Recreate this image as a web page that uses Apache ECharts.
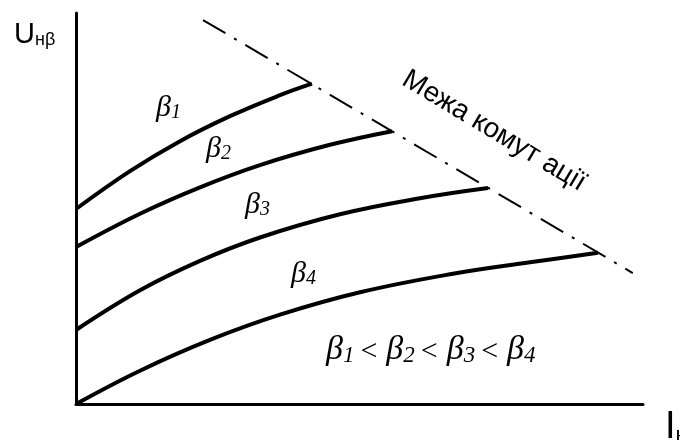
<!DOCTYPE html>
<html>
<head>
<meta charset="utf-8">
<script src="https://cdn.jsdelivr.net/npm/echarts@6/dist/echarts.min.js"></script>
<style>
  html, body { margin: 0; padding: 0; background: #fff; }
  #main_chart { width: 680px; height: 440px; }
</style>
</head>
<body>
<div id="main_chart"></div>
<script>
// curve points, [I, U] in relative units (0..100)
var beta1 = [[0, 49.87], [9.52, 59.54], [18.34, 67.21], [27.16, 73.61], [35.98, 78.98], [41.62, 81.92]];
var beta2 = [[0, 40.15], [11.29, 48.67], [21.87, 55.42], [32.45, 61.10], [44.80, 66.29], [55.73, 69.77]];
var beta3 = [[0, 18.93], [11.29, 29.08], [21.87, 36.60], [32.45, 42.58], [46.56, 48.52], [60.67, 52.61], [72.66, 55.22]];
var beta4 = [[0, 0], [11.29, 8.52], [23.63, 16.39], [35.98, 22.84], [50.09, 28.57], [65.96, 33.17], [80.07, 36.24], [92.06, 38.67]];
var commLimit = [[22.4, 98.2], [98.2, 33.5]];

var curveNames = ['β1', 'β2', 'β3', 'β4'];
var curves = [beta1, beta2, beta3, beta4];

var chart = echarts.init(document.getElementById('main_chart'));

var series = curves.map(function (pts, i) {
    return {
        name: curveNames[i],
        type: 'line',
        data: pts,
        smooth: 0.4,
        symbol: 'none',
        lineStyle: { color: '#000', width: 4 },
        animation: false
    };
});
series.push({
    name: 'Межа комутації',
    type: 'line',
    data: commLimit,
    symbol: 'none',
    lineStyle: { color: '#000', width: 2, type: [26, 10, 3, 10] },
    animation: false
});

var serif = 'Liberation Serif';
var greek = {
    b: { fontFamily: serif, fontStyle: 'italic', fontSize: 30, fill: '#000', verticalAlign: 'bottom' },
    s: { fontFamily: serif, fontStyle: 'italic', fontSize: 20, fill: '#000', verticalAlign: 'bottom' }
};

// italic beta with subscript
function betaLabel(n, x, y) {
    return {
        type: 'text',
        left: x,
        top: y,
        style: { text: '{b|β}{s|' + n + '}', rich: greek }
    };
}

var ineq = '{b|β}{s|1}{o|<}{b|β}{s|2}{o|<}{b|β}{s|3}{o|<}{b|β}{s|4}';

chart.setOption({
    backgroundColor: '#fff',
    grid: { left: 76, right: 37, top: 13, bottom: 36 },
    xAxis: {
        type: 'value',
        min: 0,
        max: 100,
        axisLine: { lineStyle: { color: '#000', width: 3 } },
        axisTick: { show: false },
        axisLabel: { show: false },
        splitLine: { show: false }
    },
    yAxis: {
        type: 'value',
        min: 0,
        max: 100,
        axisLine: { show: true, lineStyle: { color: '#000', width: 3 } },
        axisTick: { show: false },
        axisLabel: { show: false },
        splitLine: { show: false }
    },
    graphic: [
        {
            type: 'text',
            left: 14,
            top: 20,
            style: {
                text: '{u|U}{n|нβ}',
                rich: {
                    u: { fontFamily: 'Liberation Sans', fontSize: 29, fill: '#000', verticalAlign: 'bottom' },
                    n: { fontFamily: 'Liberation Sans', fontSize: 18, fill: '#000', verticalAlign: 'bottom' }
                }
            }
        },
        {
            type: 'text',
            left: 665,
            top: 409,
            style: {
                text: '{i|I}{n|н}',
                rich: {
                    i: { fontFamily: 'Liberation Sans', fontSize: 38, fill: '#000', verticalAlign: 'bottom' },
                    n: { fontFamily: 'Liberation Sans', fontSize: 22, fill: '#000', verticalAlign: 'bottom' }
                }
            }
        },
        betaLabel(1, 156, 93),
        betaLabel(2, 206, 134),
        betaLabel(3, 245, 190),
        betaLabel(4, 291, 259),
        {
            type: 'text',
            left: 326,
            top: 333,
            style: {
                text: ineq,
                rich: {
                    b: { fontFamily: serif, fontStyle: 'italic', fontSize: 34, fill: '#000', verticalAlign: 'bottom' },
                    s: { fontFamily: serif, fontStyle: 'italic', fontSize: 23, fill: '#000', verticalAlign: 'bottom' },
                    o: { fontFamily: serif, fontSize: 30, fill: '#000', verticalAlign: 'bottom', padding: [0, 9, 0, 6] }
                }
            }
        },
        {
            type: 'text',
            x: 494,
            y: 131,
            rotation: -31 * Math.PI / 180,
            style: {
                text: 'Межа комут ації',
                fontFamily: 'Liberation Sans',
                fontSize: 28,
                fill: '#000',
                align: 'center',
                verticalAlign: 'middle'
            }
        }
    ],
    series: series
});
</script>
</body>
</html>
